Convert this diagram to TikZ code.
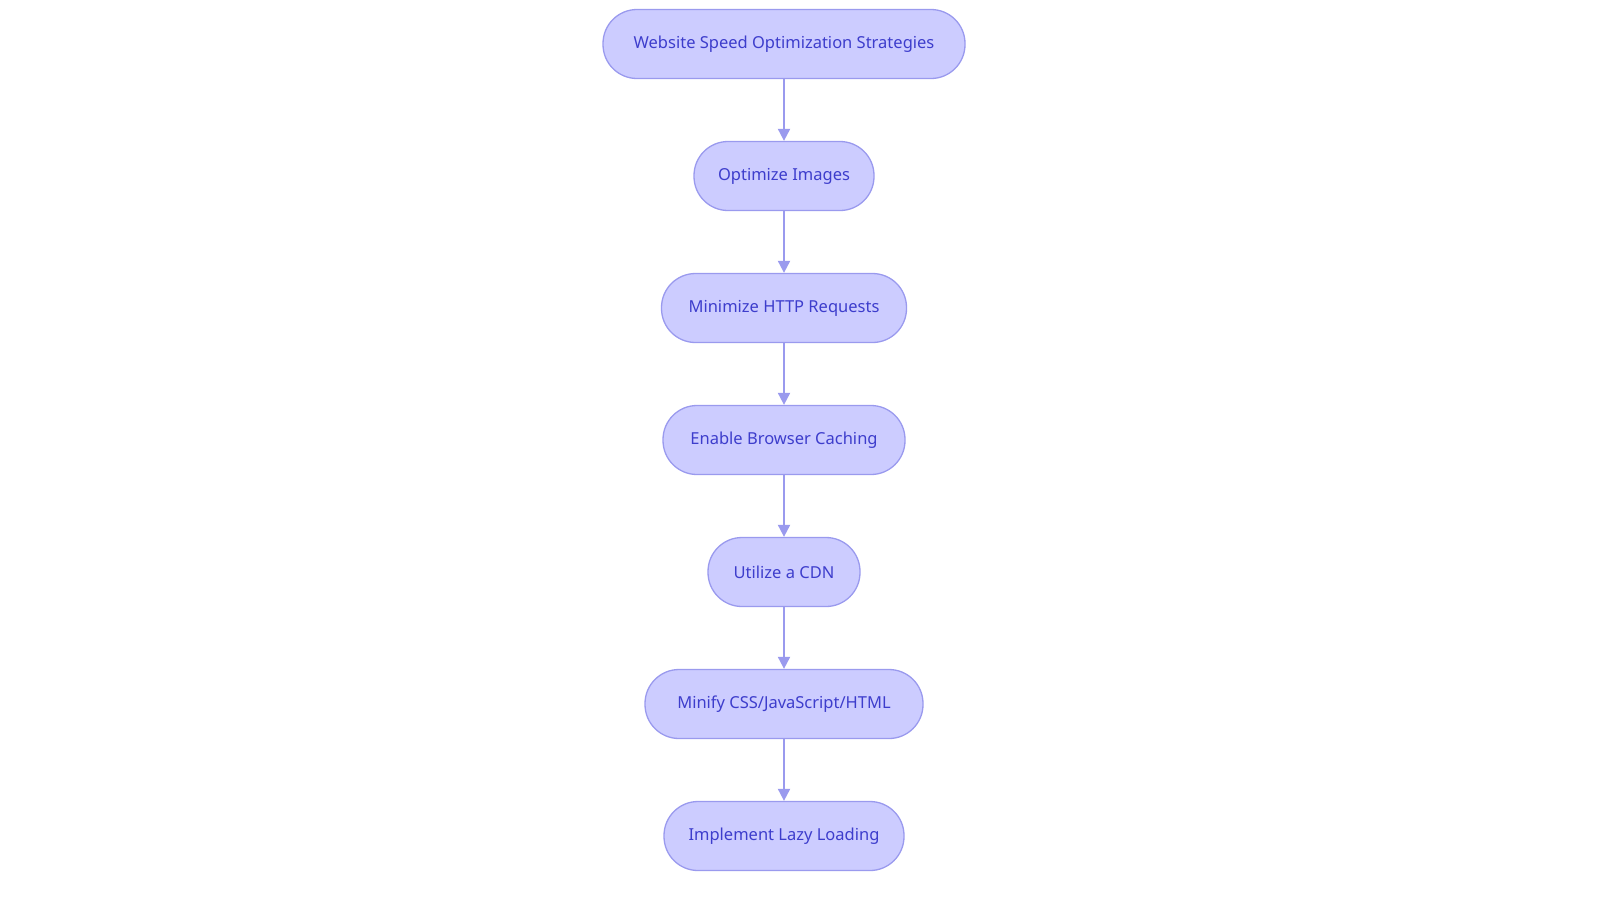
\documentclass[tikz,border=0pt]{standalone}
\usepackage{fontspec}
\setmainfont{Noto Sans}
\usetikzlibrary{arrows.meta}
\definecolor{nfill}{HTML}{CCCCFF}
\definecolor{nline}{HTML}{9A9AEE}
\definecolor{ntext}{HTML}{3D3DCC}
\begin{document}
\begin{tikzpicture}[x=1pt,y=-1pt,
  box/.style={draw=nline,line width=1.3pt,fill=nfill,rounded corners=34pt,minimum height=69pt,text=ntext,font=\fontsize{16.5}{20}\selectfont,inner sep=0pt},
  arr/.style={draw=nline,line width=2pt,-{Triangle[length=12pt,width=12pt]}}]
\useasboundingbox (0,0) rectangle (1600,903);
\node[box,minimum width=362pt] (a) at (784,44) {Website Speed Optimization Strategies};
\node[box,minimum width=180pt] (b) at (784,176) {Optimize Images};
\node[box,minimum width=245pt] (c) at (784,308) {Minimize HTTP Requests};
\node[box,minimum width=242pt] (d) at (784,440) {Enable Browser Caching};
\node[box,minimum width=152pt] (e) at (784,572) {Utilize a CDN};
\node[box,minimum width=278pt] (f) at (784,704) {Minify CSS/JavaScript/HTML};
\node[box,minimum width=240pt] (g) at (784,836) {Implement Lazy Loading};
\foreach \s/\t in {a/b,b/c,c/d,d/e,e/f,f/g} \draw[arr] (\s) -- (\t);
\end{tikzpicture}
\end{document}
